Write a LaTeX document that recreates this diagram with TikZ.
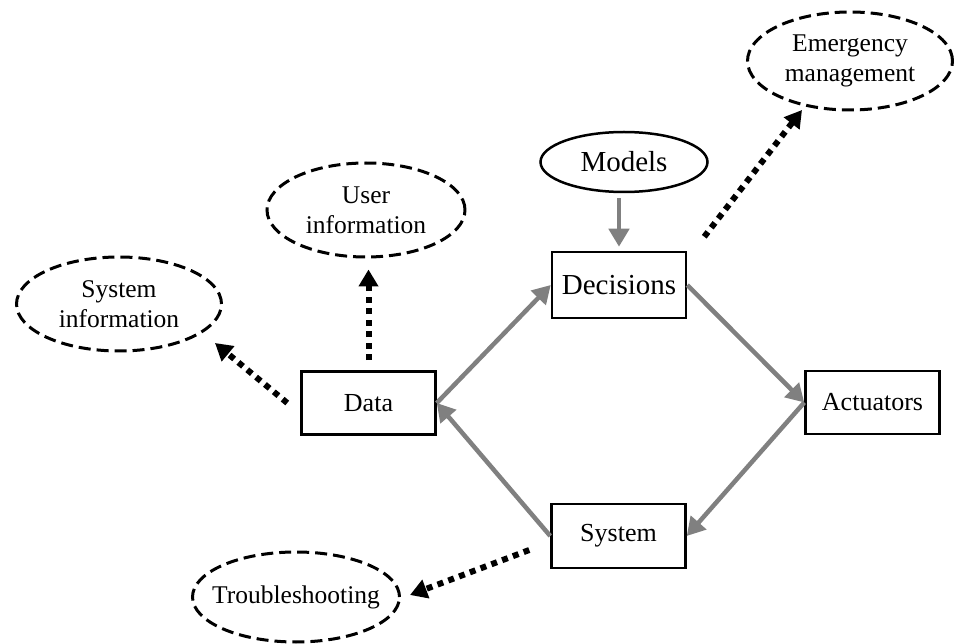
\documentclass[tikz,border=0pt]{standalone}
\usepackage{fontspec}
\setmainfont{Liberation Serif}
\usetikzlibrary{shapes.geometric,arrows.meta}
\definecolor{arrowgray}{RGB}{128,128,128}
\begin{document}
\begin{tikzpicture}[x=1pt,y=-1pt,
 boxnode/.style={draw,line width=2.5pt,minimum width=134pt,minimum height=63pt,inner sep=0pt,font=\fontsize{26}{30}\selectfont},
 dashell/.style={ellipse,draw,line width=3pt,dash pattern=on 12pt off 6pt,inner sep=0pt,align=center,font=\fontsize{25.5}{30}\selectfont},
 grayarrow/.style={draw=arrowgray,line width=4.5pt,-{Triangle[length=18pt,width=20pt]}},
 dotarrow/.style={line width=6pt,dash pattern=on 6pt off 5.5pt,-{Triangle[length=17pt,width=19pt]}}
]
\useasboundingbox[fill=white] (0,0) rectangle (954,644);

% boxes
\node[boxnode,minimum height=66pt,font=\fontsize{29}{33}\selectfont] (Decisions) at (619,285) {Decisions};
\node[boxnode] (Data) at (368.5,403) {Data};
\node[boxnode] (Actuators) at (872.5,402.5) {Actuators};
\node[boxnode,minimum height=64pt] (System) at (618.5,536) {System};

% models
\node[ellipse,draw,line width=2.5pt,minimum width=167pt,minimum height=60pt,inner sep=0pt,font=\fontsize{29}{33}\selectfont] (Models) at (624,162) {Models};

% dashed ellipses
\node[dashell,minimum width=198pt,minimum height=94pt] (UserInfo) at (366,210) {User\\information};
\node[dashell,minimum width=205pt,minimum height=94pt] (SysInfo) at (119,304) {System\\information};
\node[dashell,minimum width=205pt,minimum height=98pt] (Emerg) at (850,61) {Emergency\\management};
\node[dashell,minimum width=207pt,minimum height=90pt] (Trouble) at (296,597) {\makebox[100pt][c]{Troubleshooting}};

% gray arrows
\draw[grayarrow,shorten <=5pt,shorten >=4pt] (Decisions.north |- Models.south) -- (Decisions.north);
\draw[grayarrow] (Data.east) -- (Decisions.west);
\draw[grayarrow] (Decisions.east) -- (Actuators.west);
\draw[grayarrow] (Actuators.west) -- (System.east);
\draw[grayarrow] (System.west) -- (Data.east);

% dotted arrows
\draw[dotarrow] ([yshift=10pt]Data.north) -- ([yshift=-11pt]Data.north |- UserInfo.south);
\draw[dotarrow] ([xshift=-13pt]Data.west) -- ([xshift=96pt,yshift=-39pt]SysInfo.center);
\draw[dotarrow] ([xshift=17pt,yshift=14pt]Decisions.north east) -- ([xshift=-48pt,yshift=-49pt]Emerg.center);
\draw[dotarrow] ([xshift=-21pt,yshift=-14pt]System.west) -- ([xshift=114pt,yshift=2pt]Trouble.center);
\end{tikzpicture}
\end{document}
